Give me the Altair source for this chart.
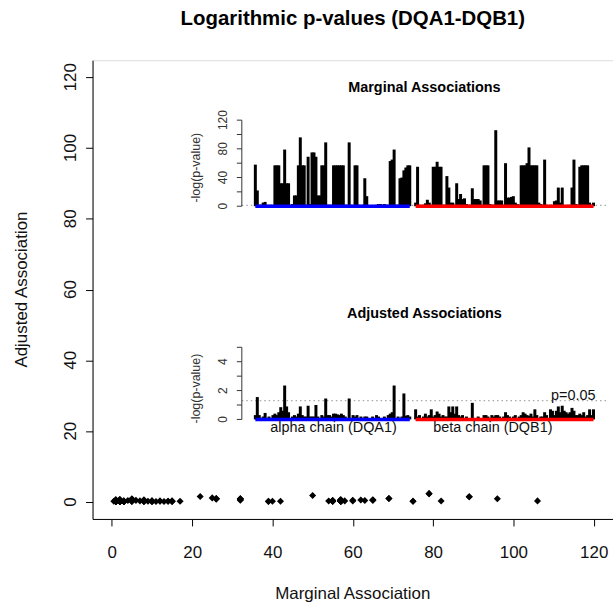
import math
import altair as alt
import pandas as pd

# ---------------- data ----------------
alpha_pos = list(range(1, 81))
beta_pos = list(range(83, 175))

alpha_marginal = [58, 22, 2, 2, 5, 6, 2, 1, 2, 1,
                  57, 57, 57, 32, 32, 79, 32, 32, 2, 3,
                  15, 15, 57, 96, 57, 57, 2, 69, 3, 75,
                  75, 69, 15, 15, 57, 57, 89, 2, 2, 2,
                  57, 57, 57, 57, 57, 57, 2, 2, 89, 2,
                  1, 57, 57, 2, 1, 2, 39, 14, 1, 1,
                  0.5, 1, 2, 3, 3, 2, 3, 2, 2, 63,
                  65, 79, 2, 2, 39, 40, 50, 54, 57, 57]
beta_marginal = [5, 55, 2, 1, 2, 4, 9, 5, 2, 55,
                 55, 62, 55, 55, 2, 2, 42, 26, 5, 5,
                 2, 32, 10, 17, 10, 11, 3, 2, 2, 25,
                 10, 10, 10, 8, 2, 57, 57, 57, 3, 2,
                 2, 106, 8, 8, 8, 2, 60, 12, 12, 13,
                 14, 5, 3, 2, 57, 57, 57, 60, 82, 57,
                 57, 57, 57, 5, 3, 2, 65, 2, 1, 2,
                 1, 7, 8, 26, 5, 26, 1, 1, 2, 1,
                 26, 65, 3, 2, 55, 57, 57, 57, 57, 5,
                 2, 5]
alpha_adjusted = [0.3, 1.55, 0.3, 0.1, 0.2, 0.45, 0.1, 0.2, 0.1, 0.3,
                  0.4, 0.3, 0.5, 0.85, 0.6, 2.35, 0.9, 0.5, 0.1, 0.2,
                  0.3, 0.2, 0.4, 0.9, 0.3, 0.2, 0.2, 0.95, 0.2, 0.2,
                  0.2, 1.0, 0.2, 0.1, 0.3, 0.2, 1.45, 0.3, 0.3, 0.2,
                  0.4, 0.4, 0.35, 0.3, 0.4, 0.3, 0.2, 0.1, 1.45, 0.1,
                  0.3, 0.2, 0.3, 0.1, 0.2, 0.1, 0.2, 0.2, 0.1, 0.1,
                  0.2, 0.1, 0.3, 0.2, 0.1, 0.1, 0.2, 0.1, 0.3, 0.4,
                  0.5, 2.35, 0.1, 0.2, 0.1, 0.2, 1.8, 0.25, 0.3, 0.2]
beta_adjusted = [0.7, 0.2, 0.3, 0.1, 0.2, 0.4, 0.2, 0.3, 0.7, 0.2,
                 0.3, 0.55, 0.4, 0.2, 0.3, 0.2, 0.2, 0.9, 0.5, 0.9,
                 0.4, 0.9, 0.3, 0.2, 0.3, 0.1, 0.2, 0.1, 0.1, 1.15,
                 0.1, 0.1, 0.2, 0.1, 0.1, 0.3, 0.3, 0.2, 0.1, 0.3,
                 0.2, 0.3, 0.3, 0.2, 0.1, 0.2, 0.5, 0.3, 0.2, 0.1,
                 0.2, 0.3, 0.1, 0.2, 0.3, 0.5, 0.4, 0.3, 0.25, 0.4,
                 0.2, 0.7, 0.3, 0.1, 0.2, 0.2, 0.5, 0.3, 0.1, 0.7,
                 0.6, 0.3, 0.6, 0.9, 0.5, 0.95, 0.6, 0.5, 0.4, 0.5,
                 0.8, 0.6, 0.3, 0.3, 0.4, 0.3, 0.5, 0.2, 0.3, 0.7,
                 0.3, 0.7]

chain_names = ["alpha chain (DQA1)", "beta chain (DQB1)"]
chain_start = [1, 83]
chain_end = [80, 174]
chain_label_x = [41, 122.5]
chain_colors = ["#0000FF", "#FF0000"]

main_ticks = [0, 20, 40, 60, 80, 100, 120]
marginal_ticks = [0, 20, 40, 60, 80, 100, 120]
marginal_labels = [0, 40, 80, 120]
adjusted_ticks = [0, 1, 2, 3, 4, 5]
adjusted_labels = [0, 2, 4]
threshold = -math.log10(0.05)

# ---------------- tables ----------------
positions = alpha_pos + beta_pos
marginal = alpha_marginal + beta_marginal
adjusted = alpha_adjusted + beta_adjusted
df = pd.DataFrame({"pos": positions, "marginal": marginal,
                   "adjusted": adjusted, "base": 0})
chains = pd.DataFrame({"chain": chain_names, "start": chain_start,
                       "end": chain_end, "lx": chain_label_x, "base": 0})

FONT = "Liberation Sans"
W, H = 523, 461
n_lo, n_hi = min(positions), max(positions)
ext = 0.04 * (n_hi - n_lo)
ix_dom = [n_lo - ext, n_hi + ext]

main_x = alt.Scale(domain=[-4.8, 124.8], nice=False, zero=False)
main_y = alt.Scale(domain=[-4.8, 124.8], nice=False, zero=False)
ix = alt.Scale(domain=ix_dom, range=[150, 517], nice=False, zero=False)
iy1 = alt.Scale(domain=[-4.8, 124.8], range=[150.2, 56.8], nice=False, zero=False)
iy2 = alt.Scale(domain=[-0.2, 5.2], range=[363.9, 285.6], nice=False, zero=False)

one = pd.DataFrame({"a": [0]})

# ---------------- main scatter ----------------
points = alt.Chart(df).mark_point(shape="diamond", filled=True, size=50,
                                  color="black", opacity=1).encode(
    x=alt.X("marginal:Q", scale=main_x,
            axis=alt.Axis(values=main_ticks, title=None, tickSize=7,
                          tickColor="black", domainColor="black",
                          labelFontSize=17, labelFont=FONT, labelColor="#111",
                          labelPadding=19, grid=False, labelFlush=False)),
    y=alt.Y("adjusted:Q", scale=main_y,
            axis=alt.Axis(values=main_ticks, title=None, tickSize=7,
                          tickColor="black", domainColor="black",
                          labels=False, grid=False)),
)

ylab_df = pd.DataFrame({"t": main_ticks, "s": [str(v) for v in main_ticks]})
ylabels = alt.Chart(ylab_df).mark_text(angle=270, align="center",
                                       baseline="middle", fontSize=17,
                                       font=FONT, color="#111").encode(
    x=alt.value(-22), y=alt.Y("t:Q", scale=main_y, axis=None), text="s:N")


def inset(yfield, yscale, ticks, labels, title, title_y, ylab_y):
    layers = []
    thr = pd.DataFrame({"x1": [ix_dom[0]], "x2": [ix_dom[1]], "y": [threshold]})
    layers.append(alt.Chart(thr).mark_rule(color="#A8A8A8", strokeWidth=1.3,
                                           strokeDash=[1.5, 3]).encode(
        x=alt.X("x1:Q", scale=ix, axis=None), x2="x2:Q",
        y=alt.Y("y:Q", scale=yscale, axis=None)))
    layers.append(alt.Chart(df).mark_rule(color="black", strokeWidth=3).encode(
        x=alt.X("pos:Q", scale=ix, axis=None),
        y=alt.Y(f"{yfield}:Q", scale=yscale, axis=None), y2="base:Q"))
    layers.append(alt.Chart(chains).mark_rule(strokeWidth=3.5).encode(
        x=alt.X("start:Q", scale=ix, axis=None), x2="end:Q",
        y=alt.Y("base:Q", scale=yscale, axis=None),
        color=alt.Color("chain:N", scale=alt.Scale(domain=chain_names,
                                                   range=chain_colors),
                        legend=None)))
    ax = pd.DataFrame({"lo": [min(ticks)], "hi": [max(ticks)]})
    layers.append(alt.Chart(ax).mark_rule(color="#333", strokeWidth=1).encode(
        x=alt.value(150), y=alt.Y("lo:Q", scale=yscale, axis=None), y2="hi:Q"))
    tk = pd.DataFrame({"t": ticks})
    layers.append(alt.Chart(tk).mark_rule(color="#333", strokeWidth=1).encode(
        x=alt.value(145), x2=alt.value(150),
        y=alt.Y("t:Q", scale=yscale, axis=None)))
    lb = pd.DataFrame({"t": labels, "s": [str(v) for v in labels]})
    layers.append(alt.Chart(lb).mark_text(angle=270, align="center",
                                          baseline="middle", fontSize=12,
                                          font=FONT, color="#333").encode(
        x=alt.value(131), y=alt.Y("t:Q", scale=yscale, axis=None), text="s:N"))
    layers.append(alt.Chart(one).mark_text(angle=270, align="center",
                                           baseline="middle", fontSize=12.5,
                                           font=FONT, color="#333",
                                           text="-log(p-value)").encode(
        x=alt.value(104), y=alt.value(ylab_y)))
    layers.append(alt.Chart(one).mark_text(align="center", baseline="middle",
                                           fontSize=14.5, fontWeight="bold",
                                           font=FONT, color="black",
                                           text=title).encode(
        x=alt.value(333.5), y=alt.value(title_y)))
    return layers


inset1 = inset("marginal", iy1, marginal_ticks, marginal_labels,
               "Marginal Associations", 28, 108)
inset2 = inset("adjusted", iy2, adjusted_ticks, adjusted_labels,
               "Adjusted Associations", 255, 330)

pthr = pd.DataFrame({"x": [n_hi], "y": [threshold], "s": ["p=0.05"]})
ptext = alt.Chart(pthr).mark_text(align="right", baseline="alphabetic",
                                  fontSize=14.5, font=FONT, color="#111",
                                  dx=2, dy=-1).encode(
    x=alt.X("x:Q", scale=ix, axis=None),
    y=alt.Y("y:Q", scale=iy2, axis=None), text="s:N")

chain_text = alt.Chart(chains).mark_text(align="center", baseline="alphabetic",
                                         fontSize=14.5, font=FONT,
                                         color="#111").encode(
    x=alt.X("lx:Q", scale=ix, axis=None), y=alt.value(373.5), text="chain:N")

title = alt.Chart(one).mark_text(align="center", baseline="middle",
                                 fontSize=20.5, fontWeight="bold", font=FONT,
                                 color="black",
                                 text="Logarithmic p-values (DQA1-DQB1)").encode(
    x=alt.value(261.5), y=alt.value(-41))
xtitle = alt.Chart(one).mark_text(align="center", baseline="middle",
                                  fontSize=17, font=FONT, color="#111",
                                  text="Marginal Association").encode(
    x=alt.value(261.5), y=alt.value(536))
ytitle = alt.Chart(one).mark_text(align="center", baseline="middle",
                                  fontSize=17, font=FONT, color="#111",
                                  angle=270,
                                  text="Adjusted Association").encode(
    x=alt.value(-71), y=alt.value(230.5))

chart = alt.layer(points, ylabels, *inset1, *inset2, ptext, chain_text, title,
                  xtitle, ytitle).resolve_scale(
    x="independent", y="independent", color="independent"
).properties(
    width=W, height=H,
    padding={"left": 93, "top": 59, "right": 0, "bottom": 86},
    autosize=alt.AutoSizeParams(type="none"),
).configure_view(stroke="black", strokeWidth=1).configure(background="white")

chart.save("out.html", embed_options={"renderer": "svg", "actions": False})
